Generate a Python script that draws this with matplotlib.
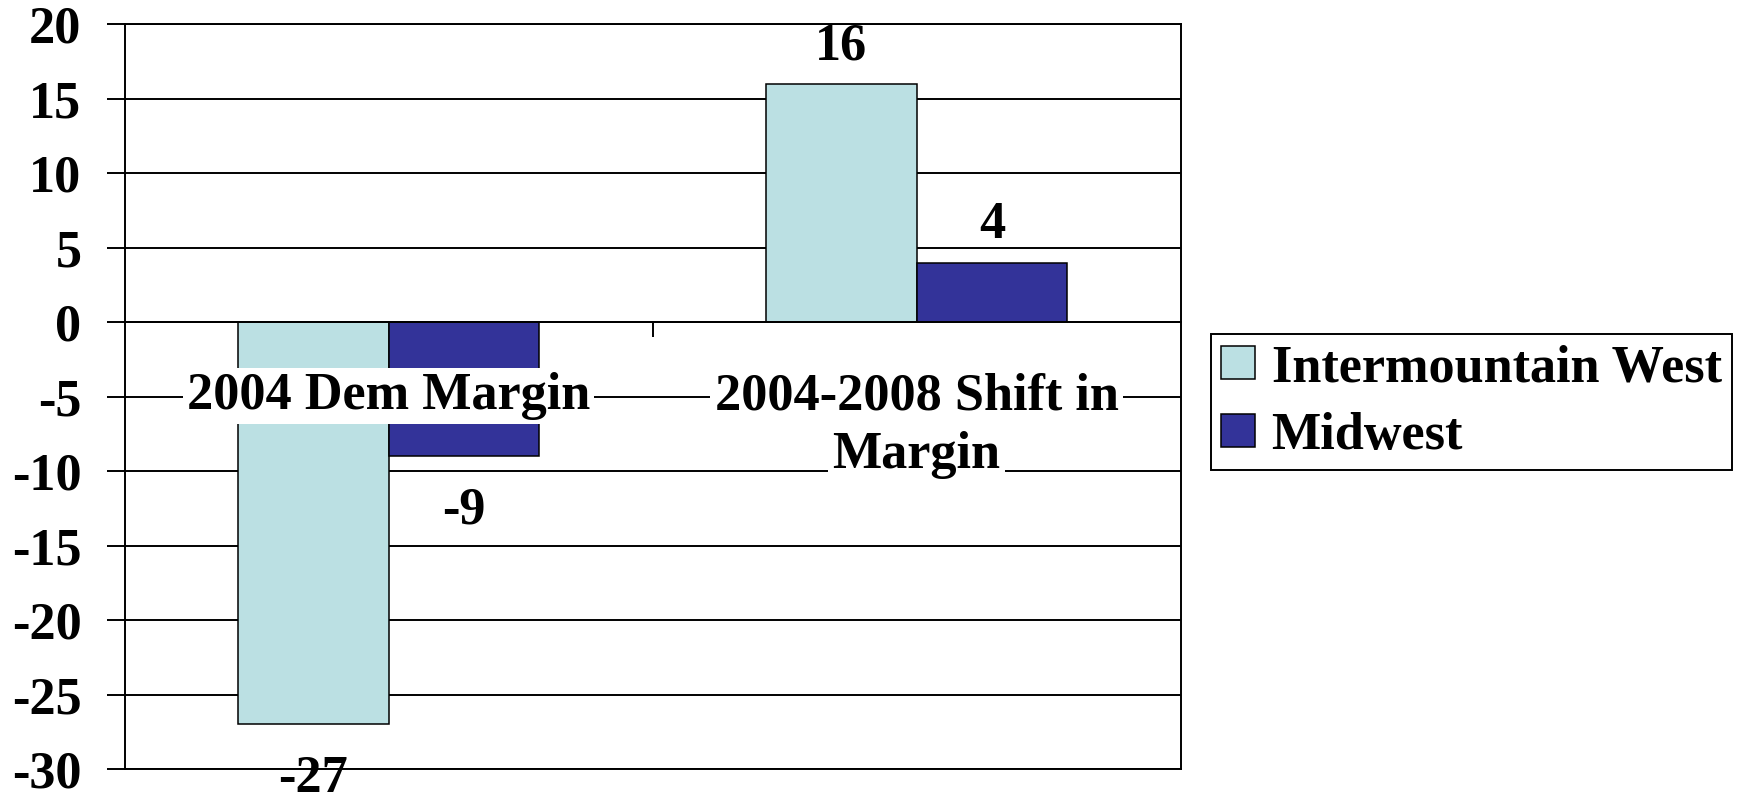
import numpy as np
import matplotlib
matplotlib.use("Agg")
from matplotlib import pyplot as plt

categories = ["2004 Dem Margin", "2004-2008 Shift in\nMargin"]
series_names = ["Intermountain West", "Midwest"]
intermountain = [-27, 16]
midwest = [-9, 4]
y_ticks = [-30, -25, -20, -15, -10, -5, 0, 5, 10, 15, 20]

plt.rcParams["font.family"] = ["Liberation Serif", "DejaVu Serif"]
plt.rcParams["font.weight"] = "bold"
plt.rcParams["font.size"] = 37.6
plt.rcParams["axes.unicode_minus"] = False

fig = plt.figure(figsize=(17.42, 7.93), dpi=100)
ax = fig.add_axes([0.0715, 0.0303, 0.6062, 0.939])

x = np.arange(len(categories))
w = 1 / 3.5  # excel gap width 150%

b1 = ax.bar(x - w / 2, intermountain, w, color="#BBE0E3", edgecolor="black",
            linewidth=1.1, label=series_names[0], zorder=1)
b2 = ax.bar(x + w / 2, midwest, w, color="#333399", edgecolor="black",
            linewidth=1.1, label=series_names[1], zorder=1)

# value labels at bar ends
for bars, vals in [(b1, intermountain), (b2, midwest)]:
    for r, v in zip(bars, vals):
        ax.annotate(str(v), xy=(r.get_x() + r.get_width() / 2, v),
                    xytext=(0, 10 if v > 0 else -22), textcoords="offset points",
                    ha="center", va="bottom" if v > 0 else "top",
                    annotation_clip=False, zorder=3)

# axes, grid, frame
ax.set_xlim(-0.5, len(categories) - 0.5)
ax.set_ylim(y_ticks[0], y_ticks[-1])
ax.set_yticks(y_ticks)
ax.set_xticks(x[:-1] + 0.5)
ax.set_xticklabels([])
ax.tick_params(axis="y", direction="out", length=13, width=1.4, pad=18)
ax.tick_params(axis="x", direction="out", length=11, width=1.4)
ax.yaxis.grid(True, color="black", linewidth=1.4)
ax.set_axisbelow(True)
for s in ax.spines.values():
    s.set_linewidth(1.4)
ax.spines["bottom"].set_position(("data", 0))
ax.axhline(y_ticks[0], color="black", linewidth=1.4, clip_on=False, zorder=2.5)

# category labels, white box per line
for i, cat in enumerate(categories):
    for j, line in enumerate(cat.split("\n")):
        ax.annotate(line, xy=(x[i], 0), xytext=(0, -36 - j * 42),
                    textcoords="offset points", ha="center", va="top",
                    bbox=dict(boxstyle="square,pad=0.08", fc="white", ec="none"),
                    annotation_clip=False, zorder=3)

leg = fig.legend(handles=[b1, b2], loc="center left", bbox_to_anchor=(0.6952, 0.4931),
                 fancybox=False, framealpha=1, edgecolor="black",
                 handlelength=0.65, handleheight=0.58, handletextpad=0.31,
                 borderpad=0.2, labelspacing=0.38, borderaxespad=0)
leg.get_frame().set_linewidth(1.4)

fig.savefig("out.png", dpi=100)
